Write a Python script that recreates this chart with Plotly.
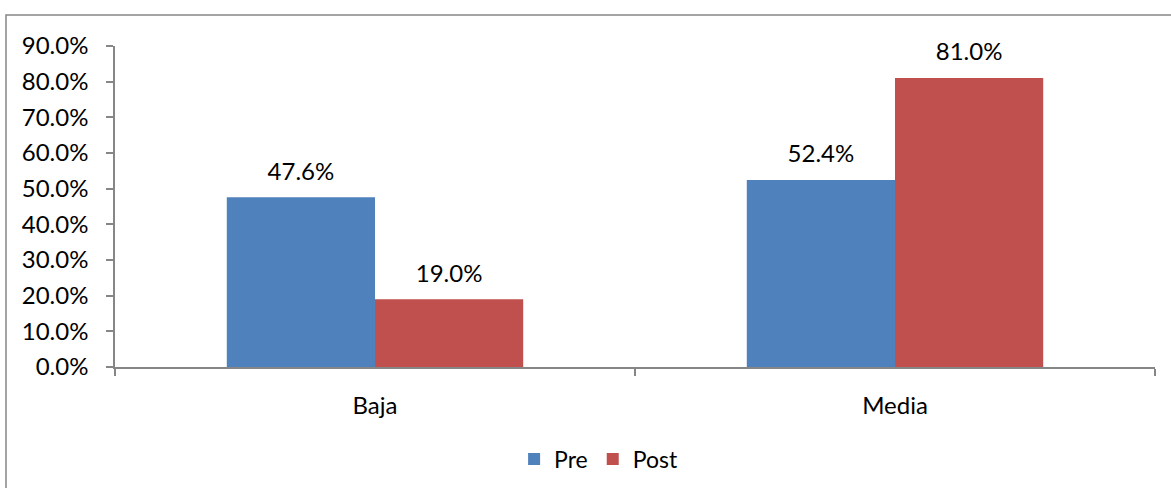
import plotly.graph_objects as go

# data
categories = ["Baja", "Media"]
pre_values = [0.476, 0.524]
post_values = [0.190, 0.810]
y_ticks = [0.0, 0.1, 0.2, 0.3, 0.4, 0.5, 0.6, 0.7, 0.8, 0.9]

FONT = "Lato, Carlito, Calibri, sans-serif"
AXIS_GRAY = "#868686"
GAP = 0.43

fig = go.Figure()
fig.add_trace(go.Bar(x=categories, y=pre_values, name="Pre",
                     marker_color="#4F81BD", offsetgroup="pre"))
fig.add_trace(go.Bar(x=categories, y=post_values, name="Post",
                     marker_color="#C0504D", offsetgroup="post"))

# value labels: invisible markers sitting on the bar tops push the text up a bit
for vals, grp in [(pre_values, "pre"), (post_values, "post")]:
    fig.add_trace(go.Scatter(
        x=categories, y=vals, mode="markers+text", offsetgroup=grp,
        text=[f"{v:.1%}" for v in vals], textposition="top center",
        textfont=dict(family=FONT, size=24, color="#000000"),
        marker=dict(size=17, color="rgba(0,0,0,0)"),
        showlegend=False, hoverinfo="skip", cliponaxis=False,
    ))

fig.update_traces(marker_line_width=0, selector=dict(type="bar"))

fig.update_layout(
    width=1171, height=488,
    margin=dict(l=115, r=16, t=46, b=121, autoexpand=False),
    paper_bgcolor="white", plot_bgcolor="white",
    font=dict(family=FONT, size=24, color="#000000"),
    barmode="group", bargap=GAP, bargroupgap=0,
    scattermode="group", scattergap=GAP,
    showlegend=True,
    legend=dict(orientation="h", x=0.465, xanchor="center", y=-0.287, yanchor="middle",
                font=dict(size=23), itemwidth=30, traceorder="normal"),
    shapes=[dict(type="rect", xref="paper", yref="paper",
                 x0=-0.1048, x1=1.2, y0=-0.6, y1=1.0966,
                 line=dict(color=AXIS_GRAY, width=1.5), layer="below")],
)

fig.update_yaxes(range=[0, 0.9], tickvals=y_ticks, tickformat=".1%",
                 showgrid=False, zeroline=False, automargin=False,
                 showline=True, linecolor=AXIS_GRAY, linewidth=1.5,
                 ticks="outside", ticklen=7, tickcolor=AXIS_GRAY, tickwidth=1.5,
                 ticklabelstandoff=13)
fig.update_xaxes(showgrid=False, showline=True, linecolor=AXIS_GRAY, linewidth=1.5,
                 ticks="outside", ticklen=7, tickcolor=AXIS_GRAY, tickwidth=1.5,
                 tickson="boundaries", ticklabelstandoff=16, automargin=False)

# drop the browser's default body margin so the figure fills the window
fig.write_html("out.html", config={"displayModeBar": False},
               post_script="document.body.style.margin = '0';")
